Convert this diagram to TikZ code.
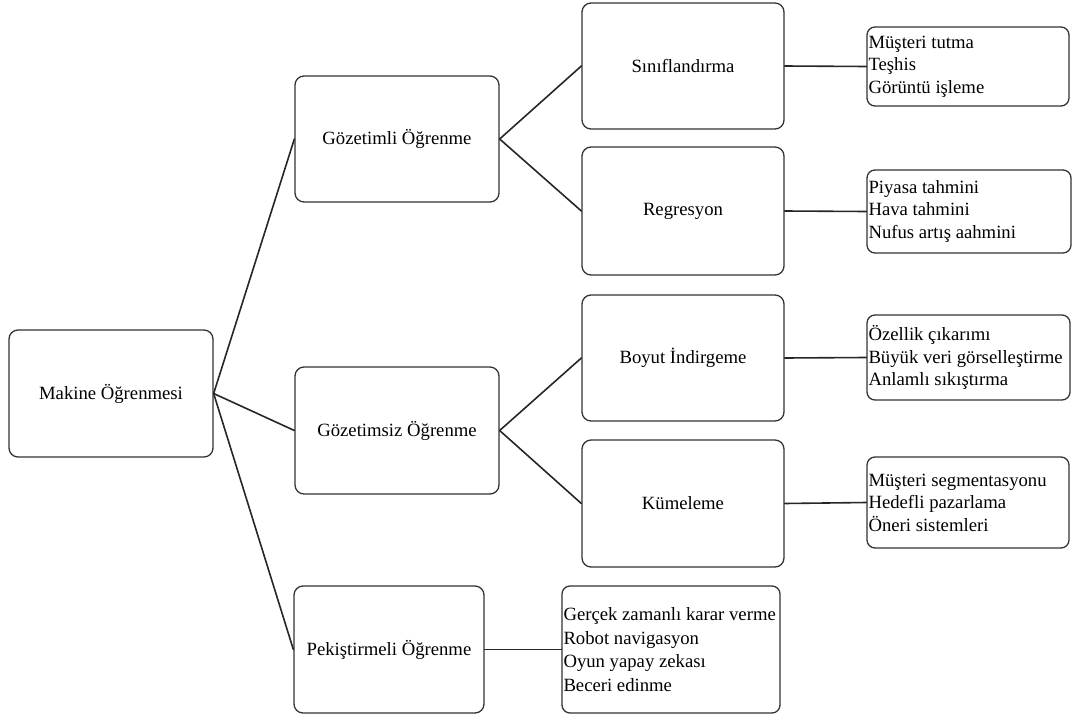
\documentclass[tikz,border=0pt]{standalone}
\usepackage{fontspec}
\setmainfont{Liberation Serif}
\usetikzlibrary{positioning}

\tikzset{
  topicbox/.style={draw=black!80, line width=1.3pt, rounded corners=9pt, align=flush center,
    font=\fontsize{18.7}{22}\selectfont, inner sep=0pt},
  listbox/.style={draw=black!80, line width=1.3pt, rounded corners=8pt, align=flush left,
    font=\fontsize{18.7}{22.5}\selectfont, inner xsep=1.5pt, inner ysep=0pt},
  link/.style={line width=1.6pt, black!85}
}

\begin{document}
\begin{tikzpicture}[x=1pt, y=-1pt, line cap=round, line join=round]

\useasboundingbox (0,0) rectangle (1076,720);
\node[topicbox, minimum width=204pt, minimum height=127pt] (root) at (111,393.5) {Makine Öğrenmesi};
\node[topicbox, minimum width=204pt, minimum height=126pt] (sup) at (397,139) {Gözetimli Öğrenme};
\node[topicbox, minimum width=204pt, minimum height=127pt] (unsup) at (397,430.5) {Gözetimsiz Öğrenme};
\node[topicbox, minimum width=190pt, minimum height=127pt] (reinf) at (389,649.5) {Pekiştirmeli Öğrenme};
\node[topicbox, minimum width=202pt, minimum height=126pt] (cls) at (683,66) {Sınıflandırma};
\node[topicbox, minimum width=202pt, minimum height=128pt] (reg) at (683,211) {Regresyon};
\node[topicbox, minimum width=202pt, minimum height=126pt] (dim) at (683,358) {Boyut İndirgeme};
\node[topicbox, minimum width=202pt, minimum height=127pt] (clu) at (683,503.5) {Kümeleme};

\node[listbox, text width=199pt, minimum height=79pt] (clsList) at (968,66.5)
  {Müşteri tutma\\Teşhis\\Görüntü işleme};
\node[listbox, text width=201pt, minimum height=83pt] (regList) at (969,211.5)
  {Piyasa tahmini\\Hava tahmini\\Nufus artış aahmini};
\node[listbox, text width=200pt, minimum height=85pt] (dimList) at (968.5,357.5)
  {Özellik çıkarımı\\Büyük veri görselleştirme\\Anlamlı sıkıştırma};
\node[listbox, text width=199pt, minimum height=91pt] (cluList) at (968,502.5)
  {Müşteri segmentasyonu\\Hedefli pazarlama\\Öneri sistemleri};
\node[listbox, text width=215pt, minimum height=127pt, font=\fontsize{18.7}{23.5}\selectfont] (reinfList) at (671,649.5)
  {Gerçek zamanlı karar verme\\Robot navigasyon\\Oyun yapay zekası\\Beceri edinme};

\draw[link] (root.east) -- (sup.west);
\draw[link] (root.east) -- (unsup.west);
\draw[link] (root.east) -- (reinf.west);
\draw[link] (sup.east) -- (cls.west);
\draw[link] (sup.east) -- (reg.west);
\draw[link] (unsup.east) -- (dim.west);
\draw[link] (unsup.east) -- (clu.west);
\draw[link] (cls.east) -- (clsList.west);
\draw[link] (reg.east) -- (regList.west);
\draw[link] (dim.east) -- (dimList.west);
\draw[link] (clu.east) -- (cluList.west);
\draw[link] (reinf.east) -- (reinfList.west);

\end{tikzpicture}
\end{document}
